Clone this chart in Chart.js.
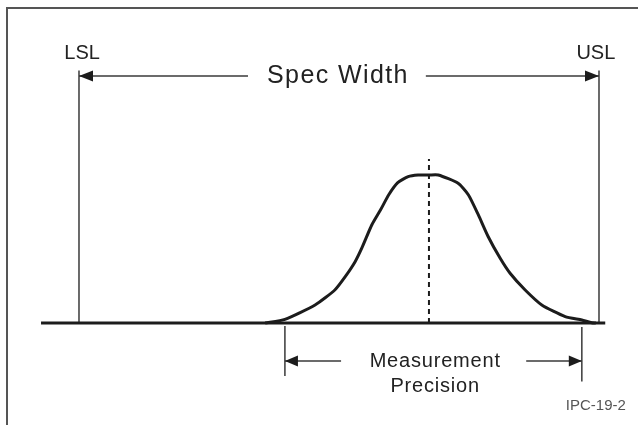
<!DOCTYPE html>
<html>
<head>
<meta charset="utf-8">
<script src="https://cdn.jsdelivr.net/npm/chart.js@4.4.1/dist/chart.umd.min.js"></script>
<style>
  body { margin: 0; background: #fff; }
  #wrap { width: 638px; height: 425px; position: relative; }
</style>
</head>
<body>
<div id="wrap"><canvas id="chart"></canvas></div>
<script>
// spec units on x (LSL = 0, USL = 100), relative density on y (peak = 1)
const curveX = [35.8, 39.6, 45.4, 49.2, 51.2, 53.1, 54.4, 56.3, 58.0, 59.6, 61.3, 63.3, 65.2, 67.3, 69.1,
  72.9, 74.9, 76.8, 78.7, 81.0, 82.9, 85.8, 89.0, 93.5, 96.7, 98.6, 99.4];
const curveY = [0, 0.025, 0.122, 0.223, 0.313, 0.414, 0.507, 0.662, 0.765, 0.868, 0.948, 0.989, 1.0, 1.0, 1.0,
  0.944, 0.865, 0.730, 0.583, 0.437, 0.336, 0.223, 0.122, 0.043, 0.020, 0.002, 0];
const specLimits = [0, 100];
const specLabels = ["LSL", "USL"];
const mean = 67.3;
const precisionLimits = [39.6, 96.7];

const ink = "#1c1c1c";
const thin = "#3a3a3a";

function seg(x1, y1, x2, y2, opts) {
  return Object.assign({
    data: [{ x: x1, y: y1 }, { x: x2, y: y2 }],
    showLine: true, pointRadius: 0, borderColor: thin, borderWidth: 1.5, fill: false
  }, opts || {});
}

const limitTop = 1.705;
const specArrowY = 1.669;
const precArrowY = -0.257;

const datasets = [
  seg(-7.3, 0, 101.2, 0, { borderColor: ink, borderWidth: 3.2 }),
  {
    data: curveX.map((x, i) => ({ x: x, y: curveY[i] })),
    showLine: true, pointRadius: 0, borderColor: ink, borderWidth: 3, tension: 0.2, fill: false
  },
  seg(specLimits[0], 0, specLimits[0], limitTop),
  seg(specLimits[1], 0, specLimits[1], limitTop),
  seg(mean, 0, mean, 1.108, { borderColor: ink, borderWidth: 2, borderDash: [5, 4] }),
  seg(specLimits[0], specArrowY, 32.5, specArrowY),
  seg(66.7, specArrowY, specLimits[1], specArrowY),
  seg(precisionLimits[0], -0.02, precisionLimits[0], -0.358),
  seg(precisionLimits[1], -0.027, precisionLimits[1], -0.395),
  seg(precisionLimits[0], precArrowY, 50.4, precArrowY),
  seg(86.0, precArrowY, precisionLimits[1], precArrowY)
];

// arrowheads, labels and the frame
const decor = {
  id: "decor",
  afterDatasetsDraw(chart) {
    const ctx = chart.ctx;
    const xs = chart.scales.x, ys = chart.scales.y;
    const px = v => xs.getPixelForValue(v);
    const py = v => ys.getPixelForValue(v);

    function head(x, y, dir, len, half) {
      const tx = px(x), ty = py(y);
      ctx.beginPath();
      ctx.moveTo(tx, ty);
      ctx.lineTo(tx - dir * len, ty - half);
      ctx.lineTo(tx - dir * len, ty + half);
      ctx.closePath();
      ctx.fillStyle = ink;
      ctx.fill();
    }
    head(specLimits[0], specArrowY, -1, 14, 5.5);
    head(specLimits[1], specArrowY, 1, 14, 5.5);
    head(precisionLimits[0], precArrowY, -1, 13, 5.5);
    head(precisionLimits[1], precArrowY, 1, 13, 5.5);

    function text(str, x, y, size, color, spacing) {
      ctx.save();
      ctx.font = size + "px 'Liberation Sans', Arial, sans-serif";
      ctx.fillStyle = color;
      ctx.textAlign = "center";
      ctx.textBaseline = "middle";
      if ("letterSpacing" in ctx) ctx.letterSpacing = (spacing || 0) + "px";
      ctx.fillText(str, px(x), py(y));
      ctx.restore();
    }
    text(specLabels[0], 0.6, 1.824, 20, "#222", 0);
    text(specLabels[1], 99.4, 1.824, 20, "#222", 0);
    text("Spec Width", 49.8, specArrowY, 25, "#222", 1.4);
    text("Measurement", 68.5, precArrowY, 20, "#222", 0.8);
    text("Precision", 68.5, -0.426, 20, "#222", 0.8);
    text("IPC-19-2", 99.4, -0.561, 15, "#555", 0);

    // frame: left and top edges
    ctx.save();
    ctx.strokeStyle = "#555";
    ctx.lineWidth = 2;
    ctx.beginPath();
    ctx.moveTo(7, chart.height);
    ctx.lineTo(7, 8);
    ctx.lineTo(chart.width, 8);
    ctx.stroke();
    ctx.restore();
  }
};

new Chart(document.getElementById("chart"), {
  type: "scatter",
  data: { datasets: datasets },
  options: {
    responsive: true,
    maintainAspectRatio: false,
    animation: false,
    layout: { padding: 0 },
    plugins: { legend: { display: false }, tooltip: { enabled: false } },
    scales: {
      x: { type: "linear", display: false, min: -15.19, max: 107.5 },
      y: { type: "linear", display: false, min: -0.689, max: 2.182 }
    }
  },
  plugins: [decor]
});
</script>
</body>
</html>
